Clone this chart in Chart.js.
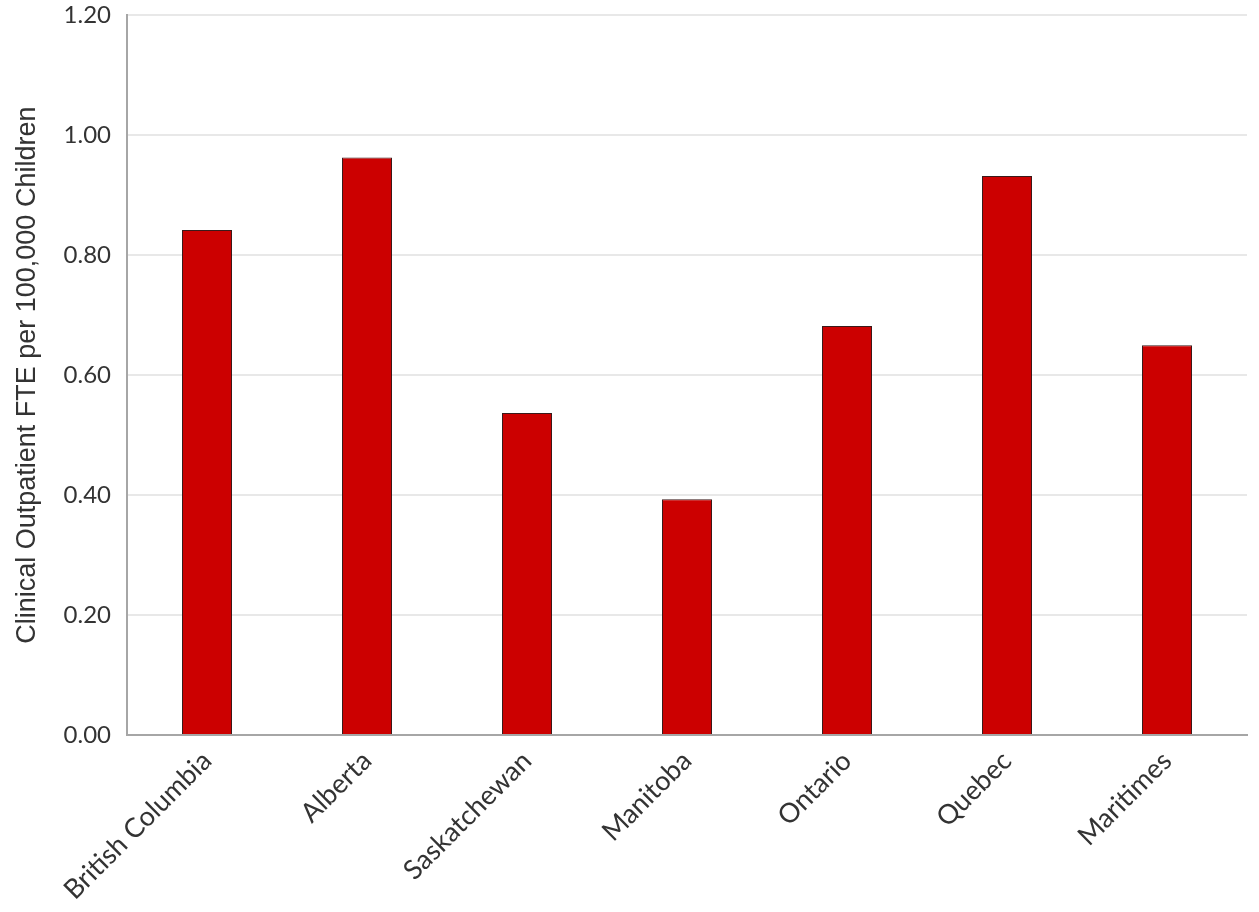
<!DOCTYPE html>
<html><head><meta charset="utf-8">
<script src="https://cdn.jsdelivr.net/npm/chart.js@4"></script>
<style>html,body{margin:0;padding:0;background:#fff;overflow:hidden}#wrap{width:1259px;height:912px;overflow:hidden}#c{display:block;margin-top:-15px}</style>
</head><body><div id="wrap"><canvas id="c" width="1259" height="927"></canvas></div>
<script>
const categories = ["British Columbia","Alberta","Saskatchewan","Manitoba","Ontario","Quebec","Maritimes"];
const values = [0.842, 0.963, 0.537, 0.393, 0.682, 0.932, 0.650];
const yTitle = "Clinical Outpatient FTE per 100,000 Children";

new Chart(document.getElementById('c'), {
  type: 'bar',
  data: { labels: categories, datasets: [{ data: values, backgroundColor: '#cc0000', borderColor: '#3a1a1a', borderWidth: 1, barPercentage: 0.3125, categoryPercentage: 1 }] },
  options: {
    responsive: false, animation: false,
    layout: { padding: { top: 0, right: 12, left: 0, bottom: 0 } },
    plugins: { legend: { display: false }, tooltip: { enabled: false } },
    scales: {
      x: {
        grid: { display: false, drawTicks: false },
        border: { display: true, color: '#a6a6a6', width: 2 },
        ticks: { color: '#333333', font: { family: 'Lato', size: 27 }, maxRotation: 45, minRotation: 45, padding: 10 },
        afterFit: s => { s.height = 927 - 750; }
      },
      y: {
        min: 0, max: 1.2,
        grid: { color: '#e8e8e8', lineWidth: 2, drawTicks: false },
        border: { display: true, color: '#a6a6a6', width: 2 },
        ticks: { stepSize: 0.2, color: '#333333', font: { family: 'Lato', size: 24 }, padding: 16, callback: v => Number(v).toFixed(2) },
        title: { display: true, text: yTitle, color: '#333333', font: { family: 'Liberation Sans', size: 27 }, padding: { top: 11, bottom: 10 } },
        afterFit: s => { s.width = 127; }
      }
    }
  }
});
</script></body></html>
